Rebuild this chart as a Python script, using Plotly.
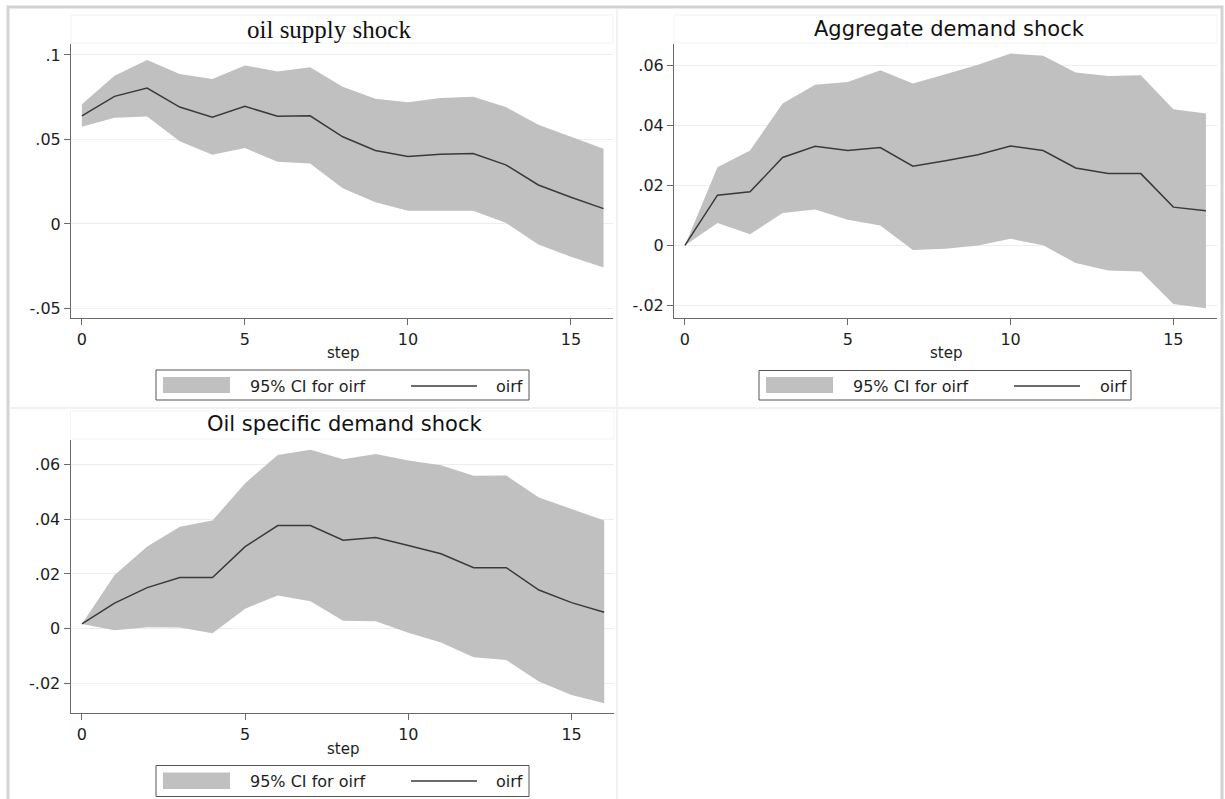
import plotly.graph_objects as go

# ---------------- data ----------------
steps = list(range(17))

supply_irf = [0.064, 0.0755, 0.0804, 0.0692, 0.0632, 0.0696, 0.0638, 0.064, 0.0516,
              0.0435, 0.0399, 0.0413, 0.0417, 0.035, 0.0231, 0.0158, 0.0091]
supply_hi = [0.0708, 0.0877, 0.0971, 0.0888, 0.0858, 0.0938, 0.0903, 0.0928, 0.0812,
             0.0741, 0.0721, 0.0745, 0.0753, 0.0692, 0.0587, 0.0518, 0.0445]
supply_lo = [0.0575, 0.0628, 0.0636, 0.049, 0.0409, 0.0449, 0.0368, 0.0358, 0.0211,
             0.0128, 0.0079, 0.0081, 0.0079, 0.0008, -0.0121, -0.0194, -0.0257]

agg_irf = [0.0, 0.0168, 0.0179, 0.0294, 0.0331, 0.0317, 0.0327, 0.0265, 0.0283,
           0.0303, 0.0332, 0.0317, 0.0259, 0.024, 0.024, 0.0128, 0.0116]
agg_hi = [0.0, 0.0261, 0.0317, 0.0474, 0.0537, 0.0546, 0.0585, 0.0541, 0.0572,
          0.0604, 0.0641, 0.0634, 0.0578, 0.0566, 0.0569, 0.0455, 0.0441]
agg_lo = [0.0, 0.0075, 0.0037, 0.0108, 0.012, 0.0086, 0.0067, -0.0015, -0.0011,
          0.0, 0.0022, 0.0001, -0.0059, -0.0084, -0.0087, -0.0196, -0.021]

spec_irf = [0.0017, 0.0093, 0.015, 0.0187, 0.0187, 0.03, 0.0377, 0.0377, 0.0323,
            0.0333, 0.0304, 0.0274, 0.0223, 0.0223, 0.0141, 0.0095, 0.006]
spec_hi = [0.0017, 0.0196, 0.03, 0.0373, 0.0395, 0.0532, 0.0635, 0.0654, 0.062,
           0.0639, 0.0615, 0.0598, 0.0559, 0.056, 0.048, 0.0437, 0.0395]
spec_lo = [0.0017, -0.0006, 0.0005, 0.0004, -0.0017, 0.0073, 0.0121, 0.01, 0.0029,
           0.0027, -0.0015, -0.0051, -0.0105, -0.0115, -0.0194, -0.0243, -0.0273]

titles = ["oil supply shock", "Aggregate demand shock", "Oil specific demand shock"]
x_ticks = [0, 5, 10, 15]
y_ticks_supply = [-0.05, 0, 0.05, 0.1]
y_labels_supply = ["-.05", "0", ".05", ".1"]
y_ticks_demand = [-0.02, 0, 0.02, 0.04, 0.06]
y_labels_demand = ["-.02", "0", ".02", ".04", ".06"]
legend_labels = ["95% CI for oirf", "oirf"]
x_title = "step"

# ---------------- layout helpers ----------------
W, H = 1225, 799


def px(x):
    return x / W


def py(y):
    return 1 - y / H


BAND = "#c0c0c0"
LINE = "#3a3a3a"
AXIS = "#6a6a6a"
GRID = "#ebeeee"
TXT = "#1e1e1e"
SANS = "DejaVu Sans"

panels = [
    dict(irf=supply_irf, hi=supply_hi, lo=supply_lo, title=titles[0],
         tfont=dict(family="Liberation Serif", size=25, color="#111"),
         xd=(71, 613), yd=(44, 318.3), yr=(-0.0558, 0.1065), xr=(-0.334, 16.29),
         yt=(y_ticks_supply, y_labels_supply),
         tpos=(329, 30), spos=(343, 353),
         leg=dict(box=(156, 370, 529, 400), sw=(163, 377, 230, 393), txt=248,
                  ln=(411, 477), oirf=494, yc=386)),
    dict(irf=agg_irf, hi=agg_hi, lo=agg_lo, title=titles[1],
         tfont=dict(family=SANS, size=21, color="#111"),
         xd=(674, 1217), yd=(44, 318.3), yr=(-0.02434, 0.0673), xr=(-0.335, 16.34),
         yt=(y_ticks_demand, y_labels_demand),
         tpos=(949, 29), spos=(946, 353),
         leg=dict(box=(759, 370.5, 1131, 400), sw=(766, 377, 833, 393), txt=851,
                  ln=(1014, 1080), oirf=1098, yc=386)),
    dict(irf=spec_irf, hi=spec_hi, lo=spec_lo, title=titles[2],
         tfont=dict(family=SANS, size=21, color="#111"),
         xd=(70.5, 614), yd=(440, 713.3), yr=(-0.031, 0.069), xr=(-0.35, 16.3),
         yt=(y_ticks_demand, y_labels_demand),
         tpos=(344, 424), spos=(343, 749),
         leg=dict(box=(156, 765.5, 529, 796.5), sw=(163, 772.5, 230, 789), txt=248,
                  ln=(411, 477), oirf=494, yc=781)),
]

fig = go.Figure()
shapes = []
annotations = []
layout = {}

# outer frame and faint panel separators
shapes.append(dict(type="rect", xref="paper", yref="paper", x0=px(8), x1=px(1222),
                   y0=py(812), y1=py(7), line=dict(color="#d3d3d3", width=3)))
shapes.append(dict(type="line", xref="paper", yref="paper", x0=px(617), x1=px(617),
                   y0=py(812), y1=py(9), line=dict(color="#f2f2f2", width=2)))
shapes.append(dict(type="line", xref="paper", yref="paper", x0=px(9), x1=px(1220),
                   y0=py(408), y1=py(408), line=dict(color="#f2f2f2", width=2)))

for i, p in enumerate(panels):
    n = "" if i == 0 else str(i + 1)
    xa, ya = "x" + n, "y" + n
    fig.add_trace(go.Scatter(x=steps + steps[::-1], y=p["hi"] + p["lo"][::-1],
                             fill="toself", fillcolor=BAND, mode="lines",
                             line=dict(width=0, color=BAND), hoverinfo="skip",
                             xaxis=xa, yaxis=ya, showlegend=False))
    fig.add_trace(go.Scatter(x=steps, y=p["irf"], mode="lines",
                             line=dict(color=LINE, width=1.5),
                             xaxis=xa, yaxis=ya, showlegend=False))
    common = dict(showline=True, linecolor=AXIS, linewidth=1, ticks="outside",
                  ticklen=6, tickcolor=AXIS, tickwidth=1, zeroline=False,
                  tickfont=dict(family=SANS, size=16, color=TXT))
    layout["xaxis" + n] = dict(common, domain=[px(p["xd"][0]), px(p["xd"][1])],
                               range=list(p["xr"]), tickvals=x_ticks,
                               showgrid=False, anchor=ya, ticklabelstandoff=0)
    layout["yaxis" + n] = dict(common, domain=[py(p["yd"][1]), py(p["yd"][0])],
                               range=list(p["yr"]), tickvals=p["yt"][0],
                               ticktext=p["yt"][1], showgrid=True, gridcolor=GRID,
                               gridwidth=1, anchor=xa)
    # faint title box
    shapes.append(dict(type="rect", xref="paper", yref="paper",
                       x0=px(p["xd"][0]), x1=px(p["xd"][1]),
                       y0=py(p["yd"][0] - 1), y1=py(p["yd"][0] - 29),
                       line=dict(color="#f3f3f3", width=1)))
    annotations.append(dict(text=p["title"], xref="paper", yref="paper",
                            x=px(p["tpos"][0]), y=py(p["tpos"][1]), xanchor="center",
                            yanchor="middle", showarrow=False, font=p["tfont"]))
    annotations.append(dict(text=x_title, xref="paper", yref="paper",
                            x=px(p["spos"][0]), y=py(p["spos"][1]), xanchor="center",
                            yanchor="middle", showarrow=False,
                            font=dict(family=SANS, size=15, color=TXT)))
    lg = p["leg"]
    b = lg["box"]
    shapes.append(dict(type="rect", xref="paper", yref="paper", x0=px(b[0]), x1=px(b[2]),
                       y0=py(b[3]), y1=py(b[1]), line=dict(color="#555555", width=1),
                       fillcolor="white"))
    s = lg["sw"]
    shapes.append(dict(type="rect", xref="paper", yref="paper", x0=px(s[0]), x1=px(s[2]),
                       y0=py(s[3]), y1=py(s[1]), line=dict(width=0), fillcolor=BAND))
    shapes.append(dict(type="line", xref="paper", yref="paper", x0=px(lg["ln"][0]),
                       x1=px(lg["ln"][1]), y0=py(lg["yc"]), y1=py(lg["yc"]),
                       line=dict(color=LINE, width=1.5)))
    annotations.append(dict(text=legend_labels[0], xref="paper", yref="paper",
                            x=px(lg["txt"]), y=py(lg["yc"]), xanchor="left",
                            yanchor="middle", showarrow=False,
                            font=dict(family=SANS, size=16, color=TXT)))
    annotations.append(dict(text=legend_labels[1], xref="paper", yref="paper",
                            x=px(lg["oirf"]), y=py(lg["yc"]), xanchor="left",
                            yanchor="middle", showarrow=False,
                            font=dict(family=SANS, size=16, color=TXT)))

fig.update_layout(width=W, height=H, margin=dict(l=0, r=0, t=0, b=0),
                  paper_bgcolor="white", plot_bgcolor="white", showlegend=False,
                  shapes=shapes, annotations=annotations, **layout)

fig.write_html("out.html")
